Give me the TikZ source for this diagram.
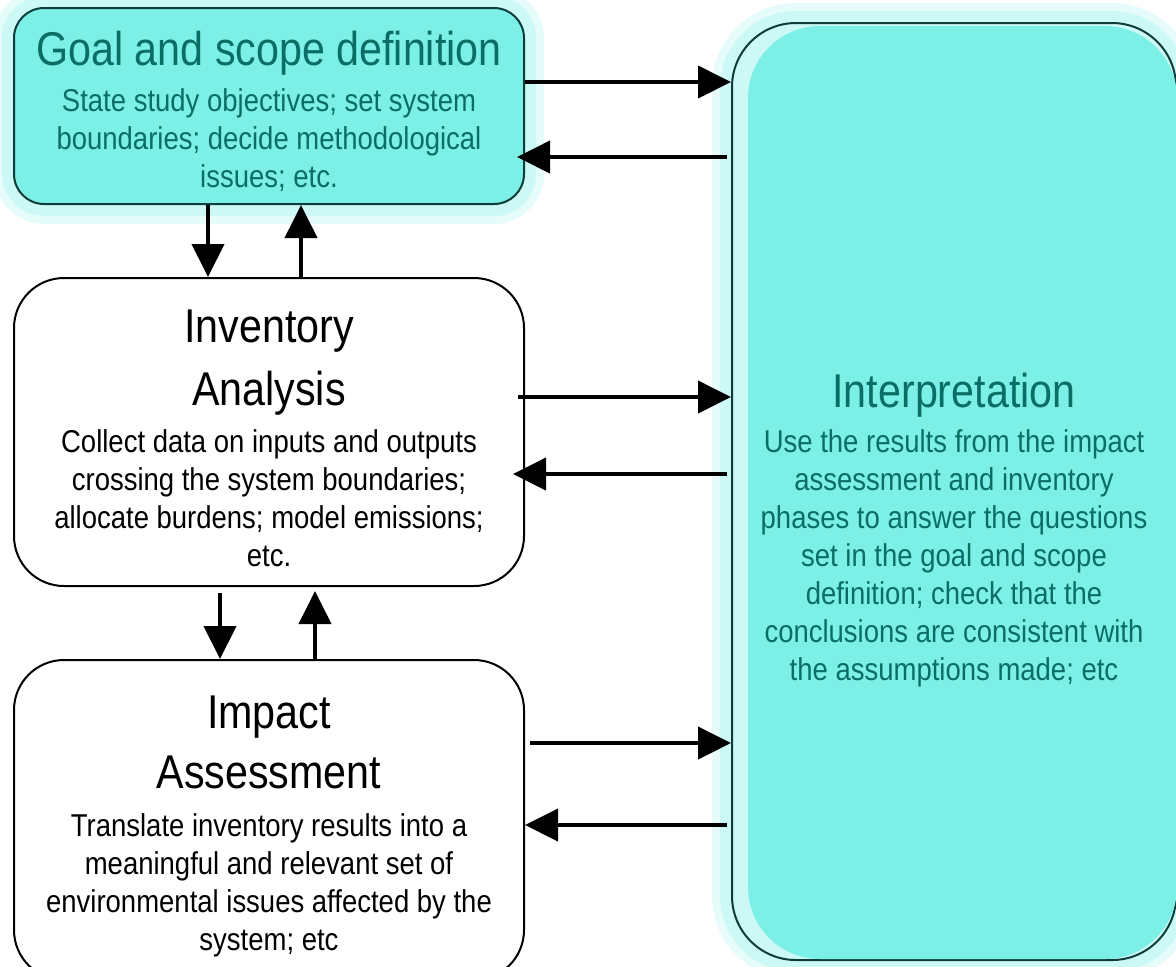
\documentclass[tikz,border=0pt]{standalone}
\usepackage{fontspec}
\setmainfont{Liberation Sans}[FakeStretch=0.87]
\usepackage{xcolor}
\usetikzlibrary{arrows.meta}

\definecolor{lcafill}{RGB}{124,240,231}
\definecolor{lcaglow}{RGB}{204,249,245}
\definecolor{lcatext}{RGB}{11,110,100}
\definecolor{lcaedge}{RGB}{13,61,58}

\newcommand{\headfont}{\fontsize{23.7}{31.5}\selectfont}
\newcommand{\headstrut}{\rule{0pt}{22.6pt}}

\tikzset{
  phase/.style={draw, line width=1pt, rounded corners=25pt, fill=white, align=center,
    font=\fontsize{15.8}{19}\selectfont, inner sep=0pt},
  tealphase/.style={phase, draw=lcaedge, fill=lcafill, text=lcatext,
    preaction={draw=lcaglow, draw opacity=0.5, line width=20pt},
    preaction={draw=lcaglow, line width=12pt}},
  flow/.style={line width=2pt, -{Triangle[length=16.5pt,width=16pt]}},
}

\begin{document}
\begin{tikzpicture}[x=0.5pt, y=-0.5pt]
\useasboundingbox (0,0) rectangle (1176,966);
\clip (0,0) rectangle (1176,966);

% phases
\node[tealphase, rounded corners=15pt, minimum width=255pt, minimum height=98pt] (goal) at (269,106)
  {{\headfont\headstrut Goal and scope definition}\\[4.4pt]
   State study objectives; set system\\ boundaries; decide methodological\\ issues; etc.};
\node[phase, minimum width=255pt, minimum height=154pt] (inv) at (269,432)
  {{\headfont\headstrut Inventory}\\[8.2pt]{\headfont Analysis}\\[4.4pt]
   Collect data on inputs and outputs\\ crossing the system boundaries;\\
   allocate burdens; model emissions;\\ etc.};
\node[phase, minimum width=255pt, minimum height=160pt] (imp) at (269,820)
  {{\headfont\headstrut Impact}\\[7.8pt]{\headfont Assessment}\\[5.2pt]
   Translate inventory results into a\\ meaningful and relevant set of\\
   environmental issues affected by the\\ system; etc};
\node[tealphase, rounded corners=32pt, fill=lcaglow, minimum width=222pt, minimum height=468.5pt] (interp) at (954,491.5) {};
\fill[lcafill, rounded corners=36pt] ([shift={(17,4)}]interp.north west) rectangle ([shift={(0,-2)}]interp.south east);
\node[phase, draw=none, fill=none, text=lcatext, yshift=-19.25pt] (interptext) at (interp.center)
  {{\headfont Interpretation}\\[3.9pt]
   Use the results from the impact\\ assessment and inventory\\
   phases to answer the questions\\ set in the goal and scope\\
   definition; check that the\\ conclusions are consistent with\\
   the assumptions made; etc};

% links to interpretation
\draw[flow] (goal.east |- 0,82) -- (interp.west |- 0,82);
\draw[flow, shorten <=2pt, shorten >=-4pt] (interp.west |- 0,157) -- (goal.east |- 0,157);
\draw[flow, shorten <=-3.5pt] (inv.east |- 0,397) -- (interp.west |- 0,397);
\draw[flow, shorten <=2pt, shorten >=-6pt] (interp.west |- 0,474) -- (inv.east |- 0,474);
\draw[flow, shorten <=2.5pt] (imp.east |- 0,743) -- (interp.west |- 0,743);
\draw[flow, shorten <=2pt] (interp.west |- 0,825) -- (imp.east |- 0,825);

% links between phases
\draw[flow] (goal.south -| 208,0) -- (inv.north -| 208,0);
\draw[flow] (inv.north -| 301,0) -- (goal.south -| 301,0);
\draw[flow, shorten <=3pt] (inv.south -| 220,0) -- (imp.north -| 220,0);
\draw[flow, shorten >=2pt] (imp.north -| 315,0) -- (inv.south -| 315,0);
\end{tikzpicture}
\end{document}
